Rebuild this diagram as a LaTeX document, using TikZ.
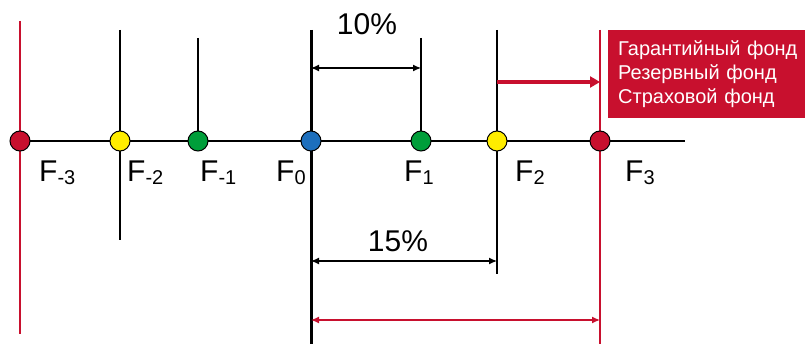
\documentclass[tikz,border=0pt]{standalone}
\usepackage{fontspec}
\setmainfont{Liberation Sans}
\usetikzlibrary{arrows.meta}
\definecolor{fred}{HTML}{C8102E}
\definecolor{fyellow}{HTML}{FFED00}
\definecolor{fgreen}{HTML}{009E3A}
\definecolor{fblue}{HTML}{1D6FBD}
\newcommand{\flab}[1]{\fontsize{30}{30}\selectfont F\raisebox{-3pt}{\fontsize{20}{20}\selectfont #1}}

\begin{document}
\begin{tikzpicture}[x=1pt,y=-1pt,
    dot/.style={circle,draw=black,line width=1pt,minimum size=20pt,inner sep=0pt},
    tick/.style={line width=2pt},
    redtick/.style={line width=2pt,fred},
    measure/.style={line width=1.2pt,{Latex[length=8pt,width=7pt]}-{Latex[length=8pt,width=7pt]}},
    flabel/.style={anchor=base west,inner sep=0pt},
    pct/.style={anchor=base,inner sep=0pt,font=\fontsize{30}{30}\selectfont}]
  \useasboundingbox (0,0) rectangle (805,344);

  % ends of the vertical lines
  \coordinate (tm3) at (20,21);   \coordinate (bm3) at (20,334);
  \coordinate (tm2) at (120,30);  \coordinate (bm2) at (120,240);
  \coordinate (tm1) at (198,38);
  \coordinate (t0) at (311,30);   \coordinate (b0) at (311,344);
  \coordinate (t1) at (421,38);
  \coordinate (t2) at (497,30);   \coordinate (b2) at (497,274);
  \coordinate (t3) at (600,30);   \coordinate (b3) at (600,344);
  \coordinate (ax0) at (10,141);  \coordinate (ax1) at (685,141);

  \draw[line width=1.5pt] (ax0) -- (ax1);
  \draw[redtick] (tm3) -- (bm3);
  \draw[tick] (tm2) -- (bm2);
  \draw[tick] (tm1) -- (198,141);
  \draw[line width=3pt] (t0) -- (b0);
  \draw[tick] (t1) -- (421,141);
  \draw[tick] (t2) -- (b2);
  \draw[redtick] (t3) -- (b3);

  % points
  \node[dot,fill=fred]    (fm3) at (20,141) {};
  \node[dot,fill=fyellow] (fm2) at (120,141) {};
  \node[dot,fill=fgreen]  (fm1) at (198,141) {};
  \node[dot,fill=fblue]   (f0)  at (311,141) {};
  \node[dot,fill=fgreen]  (f1)  at (421,141) {};
  \node[dot,fill=fyellow] (f2)  at (497,141) {};
  \node[dot,fill=fred]    (f3)  at (600,141) {};

  \node[flabel] (lm3) at (39,182)  {\flab{-3}};
  \node[flabel] (lm2) at (127,182) {\flab{-2}};
  \node[flabel] (lm1) at (200,182) {\flab{-1}};
  \node[flabel] (l0)  at (276,182) {\flab{0}};
  \node[flabel] (l1)  at (404,182) {\flab{1}};
  \node[flabel] (l2)  at (515,182) {\flab{2}};
  \node[flabel] (l3)  at (625,182) {\flab{3}};

  % spreads
  \coordinate (a10) at (311,68);  \coordinate (b10) at (421,68);
  \coordinate (a15) at (311,261); \coordinate (b15) at (497,261);
  \coordinate (ar) at (311,320);  \coordinate (br) at (600,320);
  \draw[measure] (a10) -- (b10);
  \draw[measure] (a15) -- (b15);
  \draw[measure,fred] (ar) -- (br);
  \node[pct] (p10) at (367,35)  {10\%};
  \node[pct] (p15) at (398,252) {15\%};

  % funds
  \node[fill=fred,text=white,anchor=north west,minimum height=88pt,
        text width=187pt,align=left,inner xsep=10pt,
        font=\fontsize{20}{24}\selectfont] (funds) at (608,30)
        {Гарантийный фонд\\Резервный фонд\\Страховой фонд};
  \coordinate (s2) at (497,82); \coordinate (s3) at (600,82);
  \draw[fred,line width=4.5pt,-{Triangle[length=10pt,width=11pt]}] (s2) -- (s3);
\end{tikzpicture}
\end{document}
